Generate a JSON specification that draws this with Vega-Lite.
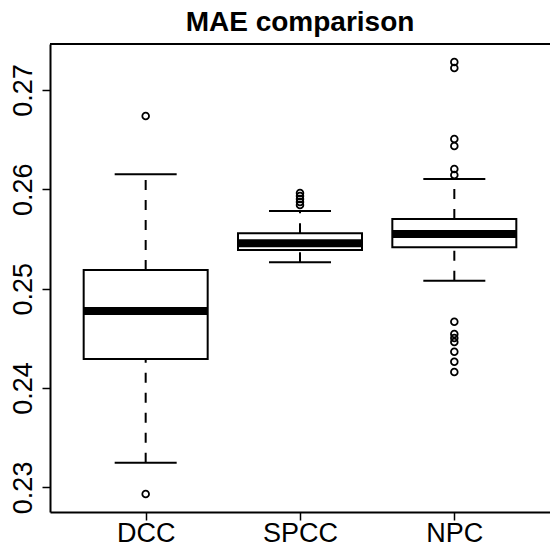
{
  "$schema": "https://vega.github.io/schema/vega-lite/v6.json",
  "autosize": {"type": "none"},
  "padding": {"left": 50, "top": 44, "right": 0, "bottom": 39},
  "width": 500,
  "height": 468,
  "background": "white",
  "config": {
    "view": {"stroke": null},
    "font": "Liberation Sans"
  },
  "title": {
    "text": "MAE comparison",
    "font": "Liberation Sans",
    "fontSize": 28,
    "fontWeight": "bold",
    "color": "black",
    "anchor": "middle",
    "baseline": "alphabetic",
    "offset": 12,
    "dy": 28
  },
  "datasets": {
    "boxes": [
      {"group": "DCC", "lo": 0.23248, "q1": 0.24292, "med": 0.24775, "q3": 0.25188, "hi": 0.26151},
      {"group": "SPCC", "lo": 0.25265, "q1": 0.25389, "med": 0.25457, "q3": 0.25557, "hi": 0.25782},
      {"group": "NPC", "lo": 0.25080, "q1": 0.25416, "med": 0.25550, "q3": 0.25701, "hi": 0.26104}
    ],
    "outliers": [
      {"group": "DCC", "value": 0.26738},
      {"group": "DCC", "value": 0.22933},
      {"group": "SPCC", "value": 0.25963},
      {"group": "SPCC", "value": 0.25933},
      {"group": "SPCC", "value": 0.25903},
      {"group": "SPCC", "value": 0.25872},
      {"group": "SPCC", "value": 0.25842},
      {"group": "NPC", "value": 0.27282},
      {"group": "NPC", "value": 0.27221},
      {"group": "NPC", "value": 0.26507},
      {"group": "NPC", "value": 0.26436},
      {"group": "NPC", "value": 0.26205},
      {"group": "NPC", "value": 0.26144},
      {"group": "NPC", "value": 0.24667},
      {"group": "NPC", "value": 0.24544},
      {"group": "NPC", "value": 0.24503},
      {"group": "NPC", "value": 0.24463},
      {"group": "NPC", "value": 0.24365},
      {"group": "NPC", "value": 0.24265},
      {"group": "NPC", "value": 0.24161}
    ],
    "frame": [{"top": 0.27463}]
  },
  "layer": [
    {
      "data": {"name": "boxes"},
      "mark": {"type": "rule", "color": "black", "strokeWidth": 2, "strokeDash": [10, 10]},
      "encoding": {
        "x": {
          "field": "group", "type": "nominal",
          "scale": {"type": "point", "padding": 0.62, "domain": ["DCC", "SPCC", "NPC"]},
          "axis": {
            "title": null,
            "domain": true, "domainColor": "black", "domainWidth": 2,
            "ticks": true, "tickColor": "black", "tickWidth": 1.5, "tickSize": 8,
            "labelFont": "Liberation Sans", "labelFontSize": 27, "labelColor": "black",
            "labelAngle": 0, "labelPadding": 0, "labelBaseline": "top", "grid": false
          }
        },
        "y": {
          "field": "q3", "type": "quantitative",
          "scale": {"domain": [0.22752, 0.27463], "zero": false, "nice": false},
          "axis": {
            "title": null,
            "values": [0.23, 0.24, 0.25, 0.26, 0.27],
            "format": ".2f",
            "domain": true, "domainColor": "black", "domainWidth": 2,
            "ticks": true, "tickColor": "black", "tickWidth": 1.5, "tickSize": 8,
            "labelFont": "Liberation Sans", "labelFontSize": 27, "labelColor": "black",
            "labelAngle": -90, "labelAlign": "center", "labelBaseline": "bottom",
            "labelPadding": 5, "grid": false
          }
        },
        "y2": {"field": "hi"}
      }
    },
    {
      "data": {"name": "boxes"},
      "mark": {"type": "rule", "color": "black", "strokeWidth": 2, "strokeDash": [10, 10]},
      "encoding": {
        "x": {"field": "group", "type": "nominal"},
        "y": {"field": "lo", "type": "quantitative"},
        "y2": {"field": "q1"}
      }
    },
    {
      "data": {"name": "boxes"},
      "mark": {"type": "tick", "orient": "horizontal", "color": "black", "size": 62, "thickness": 2, "opacity": 1},
      "encoding": {
        "x": {"field": "group", "type": "nominal"},
        "y": {"field": "hi", "type": "quantitative"}
      }
    },
    {
      "data": {"name": "boxes"},
      "mark": {"type": "tick", "orient": "horizontal", "color": "black", "size": 62, "thickness": 2, "opacity": 1},
      "encoding": {
        "x": {"field": "group", "type": "nominal"},
        "y": {"field": "lo", "type": "quantitative"}
      }
    },
    {
      "data": {"name": "boxes"},
      "mark": {"type": "bar", "fill": "white", "stroke": "black", "strokeWidth": 2, "size": 124, "opacity": 1},
      "encoding": {
        "x": {"field": "group", "type": "nominal"},
        "y": {"field": "q1", "type": "quantitative"},
        "y2": {"field": "q3"}
      }
    },
    {
      "data": {"name": "boxes"},
      "mark": {"type": "tick", "orient": "horizontal", "color": "black", "size": 124, "thickness": 8, "opacity": 1},
      "encoding": {
        "x": {"field": "group", "type": "nominal"},
        "y": {"field": "med", "type": "quantitative"}
      }
    },
    {
      "data": {"name": "outliers"},
      "mark": {"type": "point", "filled": false, "color": "black", "size": 45, "strokeWidth": 1.8, "opacity": 1},
      "encoding": {
        "x": {"field": "group", "type": "nominal"},
        "y": {"field": "value", "type": "quantitative"}
      }
    },
    {
      "data": {"name": "frame"},
      "mark": {"type": "rule", "color": "black", "strokeWidth": 2},
      "encoding": {
        "y": {"field": "top", "type": "quantitative"}
      }
    }
  ]
}
